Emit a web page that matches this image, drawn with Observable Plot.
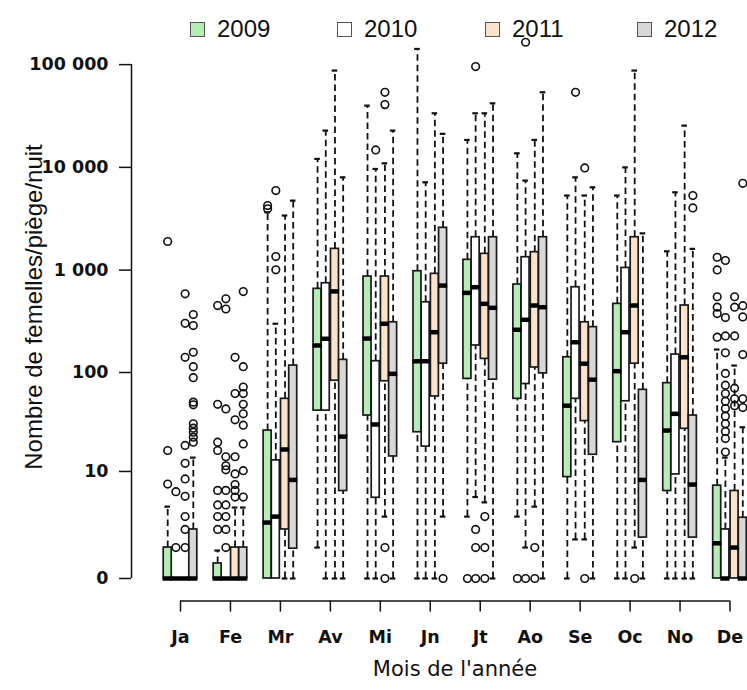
<!DOCTYPE html>
<html><head><meta charset="utf-8">
<script src="https://cdn.jsdelivr.net/npm/d3@7"></script>
<script src="https://cdn.jsdelivr.net/npm/@observablehq/plot@0.6"></script>
<style>
body{margin:0;background:#fff;font-family:Arial,"Liberation Sans",sans-serif;}
#wrap{position:relative;width:747px;height:690px;overflow:hidden;}
#wrap svg{position:absolute;left:0;top:0;}
.legend{position:absolute;top:15px;font-size:24px;color:#111;display:flex;align-items:center;}
.legend span.sw{display:inline-block;width:13px;height:13px;border:1px solid #555;margin-right:12px;}
.xtitle{position:absolute;left:455px;top:669px;transform:translate(-50%,-50%);font-family:"DejaVu Sans",sans-serif;font-size:21px;color:#111;white-space:nowrap;}
.ytitle{position:absolute;left:34px;top:307px;transform:translate(-50%,-50%) rotate(-90deg);font-size:24px;color:#111;white-space:nowrap;}
</style></head>
<body><div id="wrap"></div>
<script>
const months = ["Ja","Fe","Mr","Av","Mi","Jn","Jt","Ao","Se","Oc","No","De"];
const years = ["2009","2010","2011","2012"];
const colors = ["#b6ecb6","#ffffff","#fae3c9","#d8d8d8"];
const yTicks = [0, 10, 100, 1000, 10000, 100000];
const yTickLabels = ["0", "10", "100", "1 000", "10 000", "100 000"];

// values per month: [2009, 2010, 2011, 2012]
const whiskerLow = [
  [0,0,0,0],[0,0,0,0],[0,0,0,0],[1,0,0,0],[0,0,3,0],[0,0,0,3],
  [3,5.2,4.5,0],[3,1,4,0],[0,1.4,1.4,0],[0,0,1,0],[0,0,0,0],[0,0,0,0]
];
const q1 = [
  [0,0,0,0],[0,0,0,0],[0,0,2,0.95],[42,42,83,6.1],[37.5,5.1,82,14.4],[25.5,18.2,58,122],
  [86.6,184,136,85],[55,77,112,98],[8.7,55,33,15],[20.2,52,122,1.5],[6.1,9.3,27.6,1.5],[0,0,0,0]
];
const median = [
  [0,0,0,0],[0,0,0,0],[2.5,3,17,8.1],[184,214,620,23],[215,30.5,300,97],[129,129,248,707],
  [600,681,469,429],[262,328,452,435],[47,198,122,85],[103,248,452,8.1],[26.5,39,141,7.2],[1.2,0,1,0]
];
const q3 = [
  [1,0,0,2],[0.4,0,1,1],[26.5,13.1,55,117],[657,745,1610,133],[866,129,866,310],[975,486,920,2580],
  [1260,2090,1440,2090],[724,1335,1495,2090],[141,681,310,278],[469,1050,2090,67.5],[78.5,150,452,37.5],[7,2,6.1,2.9]
];
const whiskerHigh = [
  [4,0,0,14],[0.87,0,3.9,3.9],[3650,300,3400,4750],[12100,22800,87500,8000],[39900,9650,10960,22800],[142000,7160,33600,21200],
  [18500,33600,33600,42000],[13700,7440,18500,53800],[5320,8000,5320,6400],[5320,10000,87500,2280],[1525,5720,25500,1610],[168,14,117,28.6]
];
const outliers = [
  [[1900,16.6,7.3],[6,1],[587,303,141,18.7,12.2,8.3,5.3,3,2,1],[369,288,158,114,89,51,48,31,28,25.5,22.7,20.2]],
  [[451,48.5,20.2,16.6,6.2,4.2,3,2],[525,418,43.7,14.3,11.5,10.4,6.2,4.2,3,2,1],[141,62,34,14.3,9.4,7.2,6.2,5.2],[618,114,72,62,48.5,39,30,19.4,10.2,5.2]],
  [[4250,3950],[5950,1355,1006],[],[]],
  [[],[],[],[]],
  [[],[14800],[53800,40800,1,0],[]],
  [[],[],[],[0]],
  [[0],[95600,2,1,0],[3,1,0],[]],
  [[0],[165000,0],[1,0],[]],
  [[],[53800],[9880,0],[]],
  [[],[],[0],[]],
  [[],[],[],[5320,4030]],
  [[1335,1005,550,435,377,222],[1240,345,228,156,98,75,62,52,44,37,31,26,22,16],[550,435,228,70,55,47],[7000,450,350,150,55,45]]
];

// layout
const pxPerMonth = 49.95;
const yearOffsetPx = [-12.8, -4.6, 4.6, 12.8];
const halfBoxPx = 4, capPx = 2.8;
const f = v => Math.log10(v + 1);
const xDomain = [-49 / pxPerMonth, 11 + 17.5 / pxPerMonth];
const yDomain = [-0.22, 5.4];
const hw = halfBoxPx / pxPerMonth, cap = capPx / pxPerMonth, mw = (halfBoxPx + 0.6) / pxPerMonth;

const boxes = [];
const pts = [];
months.forEach((m, i) => years.forEach((yr, j) => {
  const x = i + yearOffsetPx[j] / pxPerMonth;
  boxes.push({x, year: yr, lo: f(whiskerLow[i][j]), q1: f(q1[i][j]), med: f(median[i][j]),
    q3: f(q3[i][j]), hi: f(whiskerHigh[i][j])});
  outliers[i][j].forEach(v => pts.push({x, y: f(v)}));
}));
const upper = boxes.filter(d => d.hi > d.q3);
const lower = boxes.filter(d => d.lo < d.q1);
const yTickPos = yTicks.map(f);

const chart = Plot.plot({
  width: 747, height: 690,
  marginLeft: 131, marginRight: 0, marginTop: 23, marginBottom: 89.4,
  style: {fontFamily: "'DejaVu Sans', sans-serif", color: "#111", background: "transparent"},
  x: {domain: xDomain},
  y: {domain: yDomain},
  color: {domain: years, range: colors},
  marks: [
    Plot.ruleX(upper, {x: "x", y1: "q3", y2: "hi", stroke: "#111", strokeWidth: 1.8, strokeDasharray: "6.5,4"}),
    Plot.ruleX(lower, {x: "x", y1: "lo", y2: "q1", stroke: "#111", strokeWidth: 1.8, strokeDasharray: "6.5,4"}),
    Plot.ruleY(upper, {y: "hi", x1: d => d.x - cap, x2: d => d.x + cap, stroke: "#111", strokeWidth: 2.2}),
    Plot.ruleY(lower, {y: "lo", x1: d => d.x - cap, x2: d => d.x + cap, stroke: "#111", strokeWidth: 2.2}),
    Plot.rect(boxes.filter(d => d.q3 > d.q1), {x1: d => d.x - hw, x2: d => d.x + hw, y1: "q1", y2: "q3",
      fill: "year", stroke: "#1a1a1a", strokeWidth: 1.7}),
    Plot.ruleY(boxes, {y: "med", x1: d => d.x - mw, x2: d => d.x + mw, stroke: "#000", strokeWidth: 4.5}),
    Plot.dot(pts, {x: "x", y: "y", r: 3.8, stroke: "#111", strokeWidth: 1.6, fill: "none"}),
    Plot.axisY(yTickPos, {tickFormat: d => yTickLabels[yTickPos.indexOf(d)], tickSize: 12, tickPadding: 11,
      fontSize: 17.5, fontWeight: "bold", label: null, strokeWidth: 1.5}),
    Plot.ruleX([xDomain[0]], {y1: yTickPos[0], y2: yTickPos[yTickPos.length - 1], stroke: "#111", strokeWidth: 1.5}),
    Plot.axisX(months.map((m, i) => i), {tickFormat: i => months[i], tickSize: 11, tickPadding: 18,
      fontSize: 17.5, fontWeight: "bold", label: null, strokeWidth: 1.5}),
    Plot.ruleY([yDomain[0]], {x1: 0, x2: months.length - 1, stroke: "#111", strokeWidth: 1.5})
  ]
});

const wrap = document.getElementById("wrap");
wrap.appendChild(chart);

const legendX = [190, 337, 485, 637];
years.forEach((yr, j) => {
  const d = document.createElement("div");
  d.className = "legend";
  d.style.left = legendX[j] + "px";
  d.innerHTML = `<span class="sw" style="background:${colors[j]}"></span><span>${yr}</span>`;
  wrap.appendChild(d);
});
const xt = document.createElement("div");
xt.className = "xtitle"; xt.textContent = "Mois de l'année"; wrap.appendChild(xt);
const yt = document.createElement("div");
yt.className = "ytitle"; yt.textContent = "Nombre de femelles/piège/nuit"; wrap.appendChild(yt);
</script></body></html>
